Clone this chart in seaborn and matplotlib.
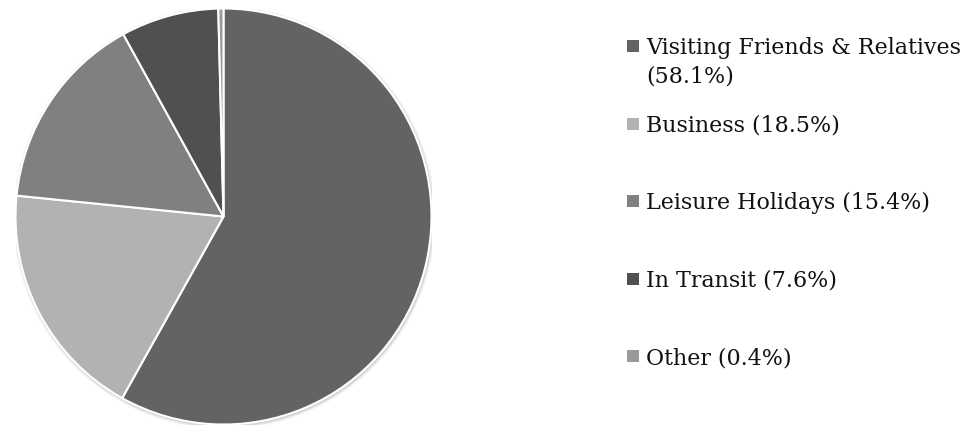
import textwrap
import matplotlib
matplotlib.use("Agg")
import matplotlib.pyplot as plt
from matplotlib.patches import Rectangle, Circle
import seaborn as sns

# Purpose of visit shares (%)
categories = ["Visiting Friends & Relatives", "Business", "Leisure Holidays",
              "In Transit", "Other"]
shares = [58.1, 18.5, 15.4, 7.6, 0.4]
colors = ["#636363", "#b2b2b2", "#808080", "#505050", "#9a9a9a"]

sns.set_theme(style="white")
plt.rcParams["font.family"] = ["DejaVu Serif", "Liberation Serif"]

W, H, DPI = 966, 428, 100
fig = plt.figure(figsize=(W / DPI, H / DPI), dpi=DPI)
fig.patch.set_facecolor("white")

# pie geometry in pixels
cx, cy, r = 223.5, 216.5, 208.0
ax = fig.add_axes([(cx - r) / W, 1 - (cy + r) / H, 2 * r / W, 2 * r / H])
ax.set_xlim(-1, 1)
ax.set_ylim(-1, 1)
ax.set_aspect("equal")
ax.axis("off")

# soft shadow around the disc
for k, a in [(1.016, 0.04), (1.010, 0.06), (1.005, 0.08)]:
    ax.add_patch(Circle((0.004, -0.006), k, color="#000000", alpha=a, lw=0, zorder=0))

ax.pie(shares, colors=colors, startangle=90, counterclock=False, radius=1,
       wedgeprops=dict(edgecolor="white", linewidth=1.5),
       frame=False)
ax.set_xlim(-1, 1)
ax.set_ylim(-1, 1)

# legend on the right
fs = 15.9
y0, step = 46.0, 77.5
line_pitch = 28.5
for i, (cat, val, col) in enumerate(zip(categories, shares, colors)):
    yc = y0 + i * step
    fig.patches.append(Rectangle(((627) / W, 1 - (yc + 6) / H), 12 / W, 12 / H,
                                 transform=fig.transFigure, facecolor=col,
                                 edgecolor="none", figure=fig))
    label = textwrap.fill(f"{cat} ({val}%)", width=28)
    for j, line in enumerate(label.split("\n")):
        fig.text(646 / W, 1 - (yc + 8 + j * line_pitch) / H, line,
                 fontsize=fs, color="#111111", va="baseline", ha="left")

fig.savefig("out.png", dpi=DPI, facecolor="white")
